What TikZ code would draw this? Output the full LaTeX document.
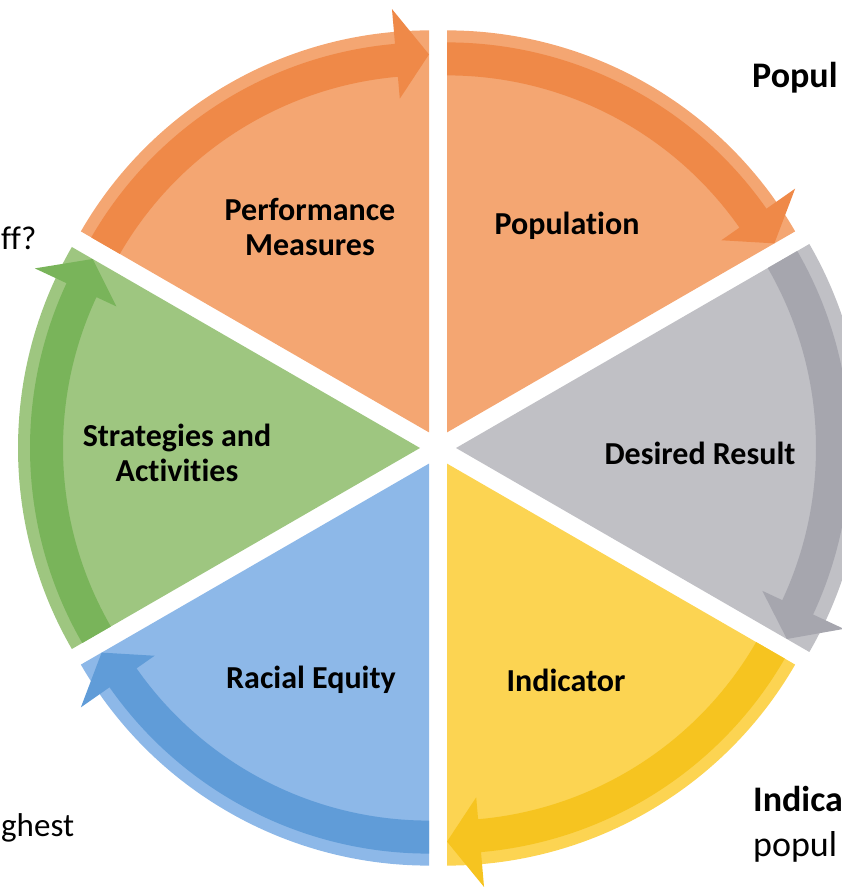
\documentclass[tikz,border=0pt]{standalone}
\usepackage{fontspec}
\setmainfont{Carlito}[Ligatures=NoCommon]
\definecolor{orangebody}{RGB}{244,166,114}
\definecolor{orangeshaft}{RGB}{239,137,72}
\definecolor{graybody}{RGB}{192,192,197}
\definecolor{grayshaft}{RGB}{166,166,174}
\definecolor{yellowbody}{RGB}{252,212,82}
\definecolor{yellowshaft}{RGB}{246,196,32}
\definecolor{bluebody}{RGB}{141,184,232}
\definecolor{blueshaft}{RGB}{96,156,216}
\definecolor{greenbody}{RGB}{158,198,128}
\definecolor{greenshaft}{RGB}{121,180,90}
\tikzset{
  wedgelabel/.style={black, font=\fontsize{32}{35}\selectfont\bfseries, align=center},
  sidetext/.style={black, font=\fontsize{36}{40}\selectfont, inner sep=0pt},
}
\begin{document}
\begin{tikzpicture}[x=1pt, y=1pt]
	\useasboundingbox (0,0) rectangle (842,892);
	% Performance Measures
	\begin{scope}[shift={(429,459.6)}]
	\fill[orangebody] (0,0) -- (90:402pt) arc[start angle=90, end angle=150, radius=402pt] -- cycle;
	\fill[orangeshaft] (150:357pt) arc[start angle=150, end angle=95, radius=357pt] -- (95:335pt) -- (90:378pt) -- (95:425pt) -- (95:390pt) arc[start angle=95, end angle=150, radius=390pt] -- cycle;
	\end{scope}
	% Population
	\begin{scope}[shift={(447,459.6)}]
	\fill[orangebody] (0,0) -- (30:402pt) arc[start angle=30, end angle=90, radius=402pt] -- cycle;
	\fill[orangeshaft] (90:357pt) arc[start angle=90, end angle=35, radius=357pt] -- (35:335pt) -- (30:378pt) -- (35:425pt) -- (35:390pt) arc[start angle=35, end angle=90, radius=390pt] -- cycle;
	\end{scope}
	% Desired Result
	\begin{scope}[shift={(456,444)}]
	\fill[graybody] (0,0) -- (-30:408pt) arc[start angle=-30, end angle=30, radius=408pt] -- cycle;
	\fill[grayshaft] (30:360pt) arc[start angle=30, end angle=-25, radius=360pt] -- (-25:338pt) -- (-30:382pt) -- (-25:428pt) -- (-25:394pt) arc[start angle=-25, end angle=30, radius=394pt] -- cycle;
	\end{scope}
	% Indicator
	\begin{scope}[shift={(447,428.4)}]
	\fill[yellowbody] (0,0) -- (-90:402pt) arc[start angle=-90, end angle=-30, radius=402pt] -- cycle;
	\fill[yellowshaft] (-30:357pt) arc[start angle=-30, end angle=-85, radius=357pt] -- (-85:335pt) -- (-90:378pt) -- (-85:425pt) -- (-85:390pt) arc[start angle=-85, end angle=-30, radius=390pt] -- cycle;
	\end{scope}
	% Racial Equity
	\begin{scope}[shift={(429,428.4)}]
	\fill[bluebody] (0,0) -- (-150:402pt) arc[start angle=-150, end angle=-90, radius=402pt] -- cycle;
	\fill[blueshaft] (-90:357pt) arc[start angle=-90, end angle=-145, radius=357pt] -- (-145:335pt) -- (-150:378pt) -- (-145:425pt) -- (-145:390pt) arc[start angle=-145, end angle=-90, radius=390pt] -- cycle;
	\end{scope}
	% Strategies and Activities
	\begin{scope}[shift={(420,444)}]
	\fill[greenbody] (0,0) -- (150:402pt) arc[start angle=150, end angle=210, radius=402pt] -- cycle;
	\fill[greenshaft] (210:357pt) arc[start angle=210, end angle=155, radius=357pt] -- (155:335pt) -- (150:378pt) -- (155:425pt) -- (155:390pt) arc[start angle=155, end angle=210, radius=390pt] -- cycle;
	\end{scope}
	% labels
	\node[wedgelabel] (perf) at (310,665) {Performance\\Measures};
	\node[wedgelabel] (pop) at (567,666) {Population};
	\node[wedgelabel] (res) at (700,439) {Desired Result};
	\node[wedgelabel] (ind) at (566,212) {Indicator};
	\node[wedgelabel] (equity) at (311,212) {Racial Equity};
	\node[wedgelabel] (strat) at (177,439) {Strategies and\\Activities};
	% cut-off side text
	\node[sidetext, font=\fontsize{36}{40}\selectfont\bfseries, anchor=base west] (popul) at (752,804) {Popul};
	\node[sidetext, font=\fontsize{36}{40}\selectfont\bfseries, anchor=base west] (indica) at (753,80) {Indica};
	\node[sidetext, anchor=base west] (popl) at (753,35) {popul};
	\node[sidetext, font=\fontsize{33}{38}\selectfont, anchor=base west] (ff) at (1,642) {ff?};
	\node[sidetext, font=\fontsize{33}{38}\selectfont, anchor=base west] (ghest) at (1,55) {ghest};
\end{tikzpicture}
\end{document}
